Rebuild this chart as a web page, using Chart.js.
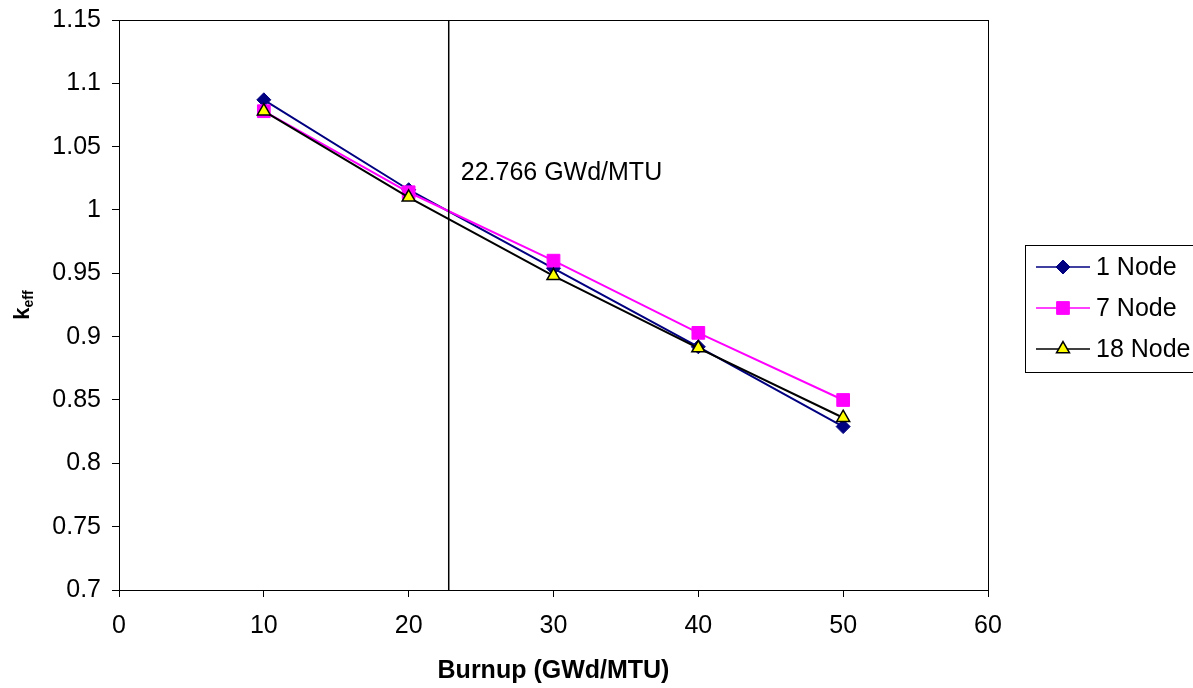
<!DOCTYPE html>
<html>
<head>
<meta charset="utf-8">
<script src="https://cdn.jsdelivr.net/npm/chart.js@4/dist/chart.umd.min.js"></script>
<style>
  html, body { margin: 0; padding: 0; background: #fff; }
  #wrap { width: 1193px; height: 688px; }
</style>
</head>
<body>
<div id="wrap"><canvas id="c" width="1193" height="688"></canvas></div>
<script>
// burnup points (GWd/MTU)
let burnup = [10, 20, 30, 40, 50]
let node1 = [1.087, 1.016, 0.954, 0.892, 0.829]
let node7 = [1.078, 1.014, 0.960, 0.903, 0.850]
let node18 = [1.078, 1.010, 0.948, 0.891, 0.836]
let seriesNames = ['1 Node', '7 Node', '18 Node']
let markerX = 22.766
let markerText = '22.766 GWd/MTU'

let font = 'Liberation Sans, Arial, sans-serif'
let fs = 25

function pts(ys) {
  return burnup.map((x, i) => ({ x: x, y: ys[i] }))
}

// box around the plot, vertical marker and its label
let extras = {
  id: 'extras',
  afterDatasetsDraw(chart) {
    let c = chart.ctx, a = chart.chartArea
    let px = chart.scales.x.getPixelForValue(markerX)
    c.save()
    c.strokeStyle = '#000'
    c.lineWidth = 1.5
    c.beginPath()
    c.moveTo(px, a.top)
    c.lineTo(px, a.bottom)
    c.stroke()
    c.lineWidth = 1
    c.strokeRect(a.left + 0.5, a.top + 0.5, a.right - a.left, a.bottom - a.top)
    c.fillStyle = '#000'
    c.font = fs + 'px ' + font
    c.textBaseline = 'middle'
    c.fillText(markerText, px + 12, 173)
    c.restore()
  },
  afterDraw(chart) {
    let c = chart.ctx
    // y axis title with subscript
    c.save()
    c.translate(22, 305)
    c.rotate(-Math.PI / 2)
    c.fillStyle = '#000'
    c.textBaseline = 'alphabetic'
    c.font = 'bold 22px ' + font
    let kw = c.measureText('k').width
    c.font = 'bold 14px ' + font
    let ew = c.measureText('eff').width
    let x0 = -(kw + ew) / 2
    c.font = 'bold 22px ' + font
    c.fillText('k', x0, 7)
    c.font = 'bold 14px ' + font
    c.fillText('eff', x0 + kw, 11)
    c.restore()

    // legend
    let lx = 1025, ly = 245, lw = 168, lh = 127
    c.save()
    c.strokeStyle = '#000'
    c.lineWidth = 1
    c.strokeRect(lx + 0.5, ly + 0.5, lw, lh)
    chart.data.datasets.forEach((ds, i) => {
      let y = 267 + i * 41
      c.strokeStyle = ds.borderColor
      c.lineWidth = 1.5
      c.beginPath()
      c.moveTo(1036, y)
      c.lineTo(1090, y)
      c.stroke()
      c.fillStyle = ds.pointBackgroundColor
      c.strokeStyle = ds.pointBorderColor
      c.lineWidth = ds.pointBorderWidth
      Chart.helpers.drawPoint(c, { pointStyle: ds.pointStyle, radius: ds.pointRadius, rotation: 0, borderWidth: ds.pointBorderWidth }, 1063, y)
      c.fillStyle = '#000'
      c.font = fs + 'px ' + font
      c.textBaseline = 'middle'
      c.fillText(ds.label, 1096, y + 1)
    })
    c.restore()
  }
}

let data = {
  datasets: [
    {
      label: seriesNames[0], data: pts(node1), order: 3,
      borderColor: '#000080', borderWidth: 2,
      pointStyle: 'rectRot', pointRadius: 7,
      pointBackgroundColor: '#000080', pointBorderColor: '#000080', pointBorderWidth: 1
    },
    {
      label: seriesNames[1], data: pts(node7), order: 2,
      borderColor: '#ff00ff', borderWidth: 2,
      pointStyle: 'rect', pointRadius: 9,
      pointBackgroundColor: '#ff00ff', pointBorderColor: '#ff00ff', pointBorderWidth: 1
    },
    {
      label: seriesNames[2], data: pts(node18), order: 1,
      borderColor: '#000000', borderWidth: 2,
      pointStyle: 'triangle', pointRadius: 7.5,
      pointBackgroundColor: '#ffff00', pointBorderColor: '#000000', pointBorderWidth: 1.5
    }
  ]
}

let chart = new Chart(document.getElementById('c').getContext('2d'), {
  type: 'line',
  data: data,
  plugins: [extras],
  options: {
    responsive: false,
    animation: false,
    layout: { padding: { left: 0, top: 20, right: 205, bottom: 0 } },
    plugins: { legend: { display: false }, tooltip: { enabled: false } },
    scales: {
      x: {
        type: 'linear', min: 0, max: 60,
        afterFit: s => { s.height = 98; s.paddingLeft = 0; s.paddingRight = 0 },
        border: { color: '#000', width: 1 },
        grid: { drawOnChartArea: false, color: '#000', tickLength: 7 },
        ticks: { stepSize: 10, color: '#000', font: { family: font, size: fs }, padding: 14 },
        title: { display: true, text: 'Burnup (GWd/MTU)', color: '#000', font: { family: font, size: fs, weight: 'bold' }, padding: { top: 4, bottom: 2 } }
      },
      y: {
        min: 0.7, max: 1.15,
        afterFit: s => { s.width = 119; s.paddingTop = 0; s.paddingBottom = 0 },
        border: { color: '#000', width: 1 },
        grid: { drawOnChartArea: false, color: '#000', tickLength: 7 },
        ticks: {
          stepSize: 0.05, color: '#000', font: { family: font, size: fs }, padding: 11,
          callback: v => String(+v.toFixed(2))
        }
      }
    }
  }
})
</script>
</body>
</html>
